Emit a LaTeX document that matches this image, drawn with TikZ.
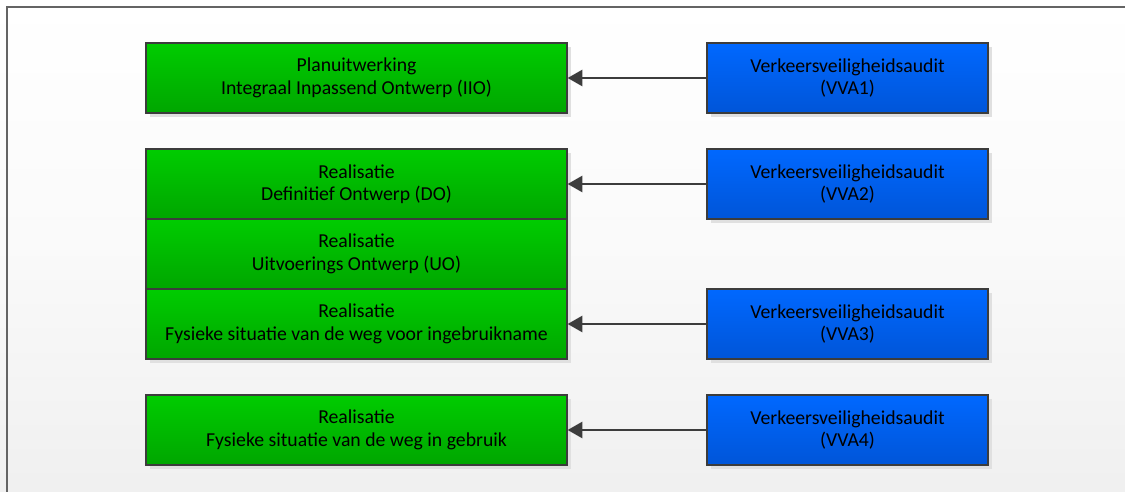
\documentclass[tikz,border=0pt]{standalone}
\usepackage{fontspec}
\setmainfont{Carlito}
\usetikzlibrary{arrows.meta}
\definecolor{gtop}{HTML}{00CC00}
\definecolor{gbot}{HTML}{00A600}
\definecolor{btop}{HTML}{0068FF}
\definecolor{bbot}{HTML}{0055D8}
\definecolor{edge}{HTML}{3C3C3C}
\definecolor{frame}{HTML}{646464}
\tikzset{
  px/.style={x=0.75pt,y=-0.75pt},
  label text/.style={font=\fontsize{14.8pt}{16.8pt}\selectfont,align=center,inner sep=0pt},
  phase/.style={draw=edge,line width=0.9pt,top color=gtop,bottom color=gbot,
    minimum width=315.75pt,minimum height=52.5pt,label text},
  audit/.style={draw=edge,line width=0.9pt,top color=btop,bottom color=bbot,
    minimum width=210.75pt,minimum height=52.5pt,label text},
  shade/.style={fill=black!12,draw=none},
  feed/.style={draw=edge,line width=1.8pt,-{Triangle[length=11pt,width=12pt]}}
}
\begin{document}
\begin{tikzpicture}[px]
  % canvas
  \shade[top color=white,bottom color=black!6,middle color=black!2]
    (0,0) rectangle (1125,492);
  \useasboundingbox (0,0) rectangle (1125,492);
  \draw[frame,line width=1.2pt] (7,492) -- (7,7) -- (1125,7);

  % drop shadows
  \foreach \y/\h in {43/70,149/210,395/70}
    \fill[shade] (150,\y+4) rectangle (571,\y+\h+4);
  \foreach \y in {43,149,289,395}
    \fill[shade] (711,\y+4) rectangle (992,\y+74);

  % project phases
  \node[phase] (iio) at (356.5,78) {Planuitwerking\\Integraal Inpassend Ontwerp (IIO)};
  \node[phase] (do)  at (356.5,184) {Realisatie\\Definitief Ontwerp (DO)};
  \node[phase] (uo)  at (356.5,254) {Realisatie\\Uitvoerings Ontwerp (UO)};
  \node[phase] (vi)  at (356.5,324) {Realisatie\\Fysieke situatie van de weg voor ingebruikname};
  \node[phase] (ig)  at (356.5,430) {Realisatie\\Fysieke situatie van de weg in gebruik};

  % road safety audits
  \node[audit] (a1) at (847.5,78)  {Verkeersveiligheidsaudit\\(VVA1)};
  \node[audit] (a2) at (847.5,184) {Verkeersveiligheidsaudit\\(VVA2)};
  \node[audit] (a3) at (847.5,324) {Verkeersveiligheidsaudit\\(VVA3)};
  \node[audit] (a4) at (847.5,430) {Verkeersveiligheidsaudit\\(VVA4)};

  % audit feeds back into its phase
  \draw[feed] (a1.west) -- (iio.east);
  \draw[feed] (a2.west) -- (do.east);
  \draw[feed] (a3.west) -- (vi.east);
  \draw[feed] (a4.west) -- (ig.east);
\end{tikzpicture}
\end{document}
